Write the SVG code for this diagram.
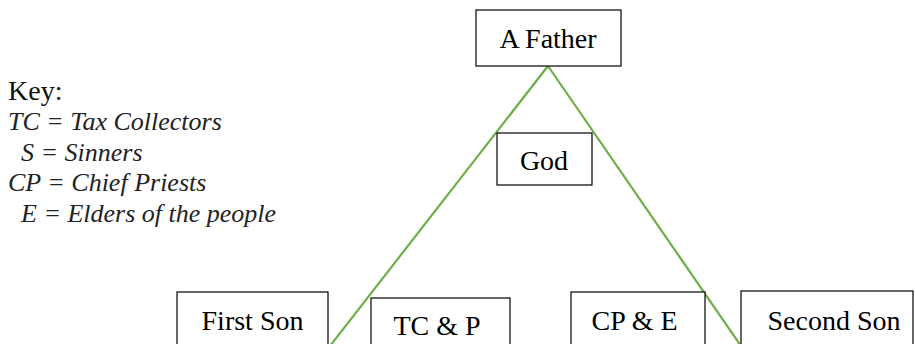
<svg xmlns="http://www.w3.org/2000/svg" width="915" height="344" viewBox="0 0 915 344">
<defs>
<style>
.box{fill:#fff;stroke:#000;stroke-width:1.2}
.conn{stroke:#70AD47;stroke-width:2.2;fill:none}
.t{font-family:"Liberation Serif","Times New Roman",serif;font-size:28px;text-anchor:middle;fill:#000}
.kh{font-family:"Liberation Serif","Times New Roman",serif;font-size:28px;fill:#111}
.k{font-family:"Liberation Serif","Times New Roman",serif;font-size:26px;font-style:italic;fill:#222}
</style>
</defs>
<rect width="915" height="344" fill="#fff"/>
<g id="connectors">
<line class="conn" x1="548" y1="66" x2="330" y2="346"/>
<line class="conn" x1="548" y1="66" x2="741" y2="346"/>
</g>
<g id="father"><rect class="box" x="476" y="10" width="145" height="56"/><text class="t" x="548" y="48">A Father</text></g>
<g id="god"><rect class="box" x="497" y="133" width="95" height="52"/><text class="t" x="544" y="170">God</text></g>
<g id="firstson"><rect class="box" x="177" y="292" width="151" height="60"/><text class="t" x="252.5" y="330">First Son</text></g>
<g id="tcp"><rect class="box" x="371" y="298" width="139" height="60"/><text class="t" x="437" y="335">TC &amp; P</text></g>
<g id="cpe"><rect class="box" x="571" y="292" width="134" height="60"/><text class="t" x="634.5" y="330">CP &amp; E</text></g>
<g id="secondson"><rect class="box" x="741" y="291" width="172" height="60"/><text class="t" x="834" y="330">Second Son</text></g>
<g id="key">
<text class="kh" x="8" y="100">Key:</text>
<text class="k" x="8" y="130">TC = Tax Collectors</text>
<text class="k" x="21" y="161">S = Sinners</text>
<text class="k" x="8" y="191">CP = Chief Priests</text>
<text class="k" x="21" y="222">E = Elders of the people</text>
</g>
</svg>
